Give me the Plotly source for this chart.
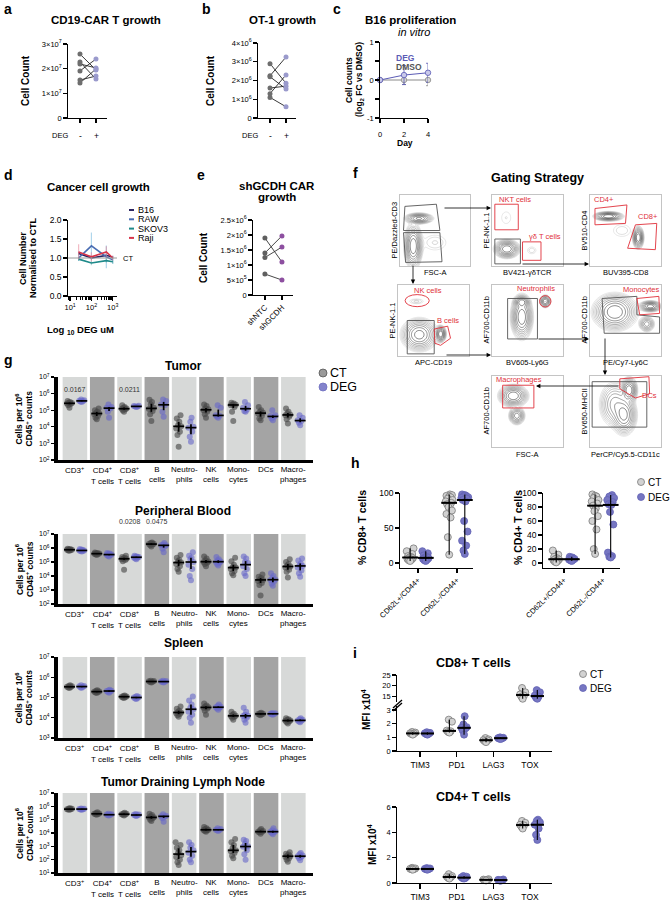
import numpy as np
import plotly.graph_objects as go

W, H = 671, 905
FONT = "Liberation Sans, Arial, Helvetica, sans-serif"

# ======================= DATA =======================
# a  CD19-CAR T growth (cell count), paired DEG - / +
a_ct = [2.59e7, 2.27e7, 2.19e7, 1.91e7, 1.54e7, 1.42e7]
a_deg = [1.95e7, 1.58e7, 2.03e7, 2.39e7, 1.70e7, 1.99e7]
a_yticks = [0, 1e7, 2e7, 3e7]
a_yticktext = ["0", "1×10<sup>7</sup>", "2×10<sup>7</sup>", "3×10<sup>7</sup>"]

# b  OT-1 growth
b_ct = [2.9e6, 2.25e6, 2.2e6, 1.6e6, 1.3e6, 1.1e6]
b_deg = [1.85e6, 3.25e6, 1.55e6, 1.7e6, 2.3e6, 0.6e6]
b_yticks = [0, 1e6, 2e6, 3e6, 4e6]
b_yticktext = ["0", "1×10<sup>6</sup>", "2×10<sup>6</sup>", "3×10<sup>6</sup>", "4×10<sup>6</sup>"]

# c  B16 proliferation in vitro (log2 FC vs DMSO)
c_days = [0, 2, 4]
c_deg = [0, 0.13, 0.19]
c_deg_err = [0, 0.25, 0.25]
c_dmso = [0, 0, 0]
c_dmso_err = [0, 0.12, 0.15]

# d  Cancer cell growth normalised to CTL
d_conc = [25, 100, 500, 1000]
d_names = ["B16", "RAW", "SKOV3", "Raji"]
d_b16 = [1.12, 1.0, 1.07, 1.02]
d_raw = [1.0, 1.32, 1.03, 0.95]
d_skov3 = [0.97, 0.87, 0.93, 0.9]
d_raji = [1.16, 1.03, 1.16, 1.0]
d_b16_err = [0.05, 0.06, 0.05, 0.04]
d_raw_err = [0.08, 0.35, 0.3, 0.1]
d_skov3_err = [0.05, 0.06, 0.05, 0.05]
d_raji_err = [0.2, 0.12, 0.15, 0.06]

# e  shGCDH CAR growth
e_ntc = [1.9e6, 1.4e6, 1.25e6, 0.7e6]
e_gcdh = [1.1e6, 1.97e6, 1.6e6, 0.5e6]
e_labels = ["shNTC", "shGCDH"]
e_yticks = [0, 5e5, 1e6, 1.5e6, 2e6, 2.5e6]
e_yticktext = ["0", "5×10<sup>5</sup>", "1×10<sup>6</sup>", "1.5×10<sup>6</sup>", "2×10<sup>6</sup>", "2.5×10<sup>6</sup>"]

# g  cells per 10^6 CD45+ counts (log10 values per animal)
g_categories = ["CD3<sup>+</sup>", "CD4<sup>+</sup><br>T cells", "CD8<sup>+</sup><br>T cells", "B<br>cells",
                "Neutro-<br>phils", "NK<br>cells", "Mono-<br>cytes", "DCs", "Macro-<br>phages"]
tumor_ct = [[5.55, 5.5, 5.45, 5.43, 5.4, 5.38, 5.3, 5.15],
            [5.1, 5.0, 4.9, 4.85, 4.8, 4.75, 4.65, 4.55, 4.45],
            [5.3, 5.2, 5.15, 5.1, 5.08, 5.05, 4.98, 4.9],
            [5.63, 5.5, 5.35, 5.15, 5.07, 4.95, 4.75, 4.35],
            [4.7, 4.5, 4.3, 4.1, 4.03, 3.9, 3.7, 3.5, 2.8],
            [5.35, 5.25, 5.1, 5.05, 5.0, 4.9, 4.75, 4.55],
            [5.45, 5.4, 5.35, 5.33, 5.3, 5.2, 4.9, 4.35],
            [5.2, 5.0, 4.9, 4.85, 4.8, 4.65, 4.5, 4.4],
            [5.1, 4.9, 4.8, 4.73, 4.7, 4.6, 4.45, 4.2]]
tumor_deg = [[5.65, 5.6, 5.57, 5.55, 5.53, 5.5],
             [5.35, 5.2, 5.15, 5.1, 4.9, 4.55],
             [5.27, 5.25, 5.23, 5.22, 5.2],
             [5.65, 5.55, 5.35, 5.3, 4.9, 4.6],
             [4.55, 4.3, 4.0, 3.95, 3.7, 3.4, 3.1],
             [5.3, 5.15, 4.7, 4.67, 4.6, 4.55],
             [5.5, 5.3, 5.15, 5.03, 4.95, 4.9],
             [5.0, 4.7, 4.65, 4.6, 4.5, 4.4],
             [4.7, 4.55, 4.4, 4.35, 4.25, 4.1]]
tumor_p = {0: "0.0167", 2: "0.0211"}

pb_ct = [[5.95, 5.92, 5.9, 5.88, 5.87, 5.85, 5.83, 5.8],
         [5.68, 5.65, 5.62, 5.6, 5.59, 5.57, 5.55, 5.5],
         [5.45, 5.35, 5.3, 5.25, 5.23, 5.2, 5.15, 5.05, 4.45],
         [6.4, 6.35, 6.3, 6.28, 6.25, 6.2, 6.1],
         [5.5, 5.3, 5.15, 5.05, 4.96, 4.85, 4.7, 4.5, 4.3],
         [5.4, 5.25, 5.1, 5.04, 5.0, 4.95, 4.85, 4.7],
         [5.3, 5.05, 4.8, 4.65, 4.6, 4.5, 4.35, 4.2, 4.05],
         [4.1, 3.95, 3.85, 3.75, 3.72, 3.65, 3.5, 3.35, 2.6],
         [5.2, 5.0, 4.85, 4.75, 4.68, 4.6, 4.45, 4.3, 3.9]]
pb_deg = [[5.92, 5.88, 5.85, 5.83, 5.82, 5.8, 5.78, 5.75],
          [5.65, 5.6, 5.57, 5.54, 5.52, 5.5, 5.45, 5.4],
          [5.45, 5.4, 5.37, 5.35, 5.33, 5.3, 5.25, 5.2],
          [6.35, 6.25, 6.2, 6.19, 6.1, 5.95, 5.7],
          [5.7, 5.45, 5.3, 5.2, 5.0, 4.8, 4.5, 4.0, 3.7],
          [5.35, 5.2, 5.1, 5.04, 5.0, 4.95, 4.85, 4.75],
          [5.4, 5.25, 5.0, 4.92, 4.7, 4.5, 4.2, 4.0],
          [4.2, 4.0, 3.85, 3.75, 3.72, 3.6, 3.45, 3.3],
          [5.25, 5.1, 4.9, 4.75, 4.72, 4.6, 4.4, 4.2, 3.95]]
pb_p = {2: "0.0208", 3: "0.0475"}

spleen_ct = [[5.6, 5.57, 5.55, 5.53, 5.52, 5.5, 5.47],
             [5.36, 5.33, 5.3, 5.29, 5.27, 5.25, 5.22],
             [5.1, 5.08, 5.05, 5.04, 5.02, 5.0, 4.98],
             [5.83, 5.81, 5.8, 5.78, 5.76, 5.74],
             [4.55, 4.45, 4.35, 4.3, 4.26, 4.22, 4.18, 4.12, 4.05],
             [4.7, 4.6, 4.55, 4.52, 4.5, 4.45, 4.35, 4.15],
             [4.3, 4.2, 4.15, 4.1, 4.09, 4.05, 4.0, 3.9],
             [4.25, 4.22, 4.2, 4.19, 4.17, 4.15, 4.12],
             [3.97, 3.93, 3.9, 3.87, 3.85, 3.82, 3.78, 3.72]]
spleen_deg = [[5.6, 5.57, 5.55, 5.53, 5.5, 5.48],
              [5.38, 5.35, 5.33, 5.32, 5.3, 5.27, 5.24],
              [5.07, 5.04, 5.02, 5.0, 4.98, 4.95, 4.92],
              [5.83, 5.81, 5.79, 5.78, 5.76, 5.74],
              [5.05, 4.85, 4.65, 4.5, 4.42, 4.3, 4.15, 4.0, 3.75],
              [4.65, 4.58, 4.54, 4.52, 4.5, 4.46, 4.4],
              [4.5, 4.3, 4.15, 4.1, 4.09, 4.0, 3.9, 3.75],
              [4.24, 4.22, 4.2, 4.19, 4.17, 4.15],
              [3.98, 3.93, 3.9, 3.87, 3.85, 3.82, 3.78]]

tdln_ct = [[5.85, 5.83, 5.81, 5.79, 5.78, 5.76, 5.74],
           [5.55, 5.5, 5.47, 5.44, 5.42, 5.4, 5.36],
           [5.52, 5.47, 5.44, 5.41, 5.39, 5.36, 5.32],
           [5.45, 5.35, 5.25, 5.18, 5.16, 5.1, 5.0, 4.9],
           [3.3, 3.1, 2.9, 2.7, 2.5, 2.34, 2.2, 2.0, 1.8, 1.6],
           [4.45, 4.35, 4.3, 4.25, 4.23, 4.2, 4.15, 4.1],
           [3.55, 3.3, 3.1, 2.9, 2.7, 2.64, 2.5, 2.3, 2.1],
           [4.3, 4.2, 4.15, 4.1, 4.08, 4.05, 3.95],
           [2.55, 2.45, 2.38, 2.3, 2.26, 2.2, 2.1, 2.0, 1.85]]
tdln_deg = [[5.84, 5.82, 5.8, 5.79, 5.77, 5.75],
            [5.45, 5.41, 5.38, 5.36, 5.34, 5.31],
            [5.42, 5.39, 5.36, 5.34, 5.32, 5.28],
            [5.4, 5.3, 5.26, 5.24, 5.1, 4.85],
            [3.3, 3.1, 2.9, 2.7, 2.51, 2.3, 2.0, 1.8],
            [4.35, 4.3, 4.25, 4.23, 4.2, 4.15],
            [3.5, 3.4, 3.2, 3.0, 2.97, 2.7, 2.4, 2.0],
            [4.35, 4.2, 4.12, 4.1, 4.05, 4.0, 3.9],
            [2.5, 2.4, 2.32, 2.26, 2.2, 2.1, 1.95]]

# h  % of CD8+ / CD4+ T cells
h_categories = ["CD62L+/CD44+", "CD62L-/CD44+"]
h8_ct = [[21, 17, 13, 10, 9, 8, 7, 6, 5, 4, 3],
         [98, 97, 96, 95, 94, 92, 90, 88, 86, 84, 82, 80, 75, 70, 65, 37, 12]]
h8_deg = [[17, 14, 11, 9, 8, 7, 6, 5, 4, 3],
          [98, 97, 96, 95, 94, 93, 92, 90, 88, 60, 45, 32, 25, 18, 13]]
h4_ct = [[18, 12, 9, 7, 6, 5, 4, 3, 2, 1],
         [98, 96, 95, 93, 90, 88, 85, 82, 78, 74, 67, 60, 48, 20, 13]]
h4_deg = [[9, 8, 7, 6, 5, 5, 4, 3],
          [97, 95, 93, 90, 87, 84, 83, 73, 55, 15, 10, 9, 8]]

# i  MFI x10^4
i_categories = ["TIM3", "PD1", "LAG3", "TOX"]
i8_ct = [[1.4, 1.35, 1.3, 1.28, 1.25, 1.2],
         [2.3, 2.15, 1.5, 1.45, 1.4, 1.35],
         [0.95, 0.85, 0.8, 0.78, 0.72, 0.65],
         [19, 17, 16, 15.5, 15, 14]]
i8_deg = [[1.38, 1.33, 1.3, 1.27, 1.25, 1.2],
          [2.55, 1.95, 1.75, 1.7, 1.65, 1.5, 1.2],
          [1.0, 0.97, 0.95, 0.93, 0.9, 0.88],
          [18, 17, 15.5, 15, 14.5, 14]]
i4_ct = [[1.2, 1.15, 1.12, 1.1, 1.08, 1.05],
         [0.7, 0.55, 0.5, 0.45, 0.4, 0.35],
         [0.3, 0.27, 0.25, 0.23, 0.2],
         [4.9, 4.75, 4.6, 4.55, 4.45, 4.3]]
i4_deg = [[1.18, 1.15, 1.12, 1.1, 1.08, 1.05],
          [0.55, 0.5, 0.45, 0.4, 0.38, 0.35],
          [0.28, 0.25, 0.23, 0.2, 0.18],
          [5.0, 4.9, 4.8, 4.6, 4.3, 3.8, 3.4]]

# f  gating strategy: axis names and population centres (cx, cy, sx, sy, weight)
f_xlabels = ["FSC-A", "BV421-γδTCR", "BUV395-CD8", "APC-CD19", "BV605-Ly6G", "PE/Cy7-Ly6C", "FSC-A", "PerCP/Cy5.5-CD11c"]
f_ylabels = ["PE/Dazzled-CD3", "PE-NK-1.1", "BV510-CD4", "PE-NK-1.1", "AF700-CD11b", "AF700-CD11b", "AF700-CD11b", "BV650-MHCII"]
f_pops = [
    [(0.27, 0.67, 0.08, 0.03, 1.0), (0.19, 0.28, 0.05, 0.12, 1.3), (0.5, 0.33, 0.12, 0.08, 0.06)],
    [(0.21, 0.24, 0.07, 0.05, 1.0), (0.2, 0.68, 0.07, 0.09, 0.03), (0.56, 0.22, 0.05, 0.04, 0.04)],
    [(0.26, 0.7, 0.08, 0.025, 1.0), (0.68, 0.4, 0.03, 0.06, 1.0), (0.45, 0.5, 0.1, 0.07, 0.04)],
    [(0.3, 0.3, 0.1, 0.09, 1.0), (0.6, 0.31, 0.03, 0.045, 1.2), (0.26, 0.77, 0.07, 0.025, 0.06)],
    [(0.42, 0.55, 0.06, 0.12, 1.0), (0.42, 0.76, 0.045, 0.035, 0.8), (0.75, 0.77, 0.03, 0.035, 0.7)],
    [(0.35, 0.62, 0.12, 0.1, 1.0), (0.85, 0.7, 0.06, 0.03, 0.9), (0.8, 0.45, 0.045, 0.045, 0.4)],
    [(0.3, 0.72, 0.08, 0.06, 1.0), (0.35, 0.44, 0.045, 0.05, 0.6)],
    [(0.55, 0.8, 0.045, 0.07, 1.0), (0.48, 0.45, 0.07, 0.11, 0.8), (0.35, 0.6, 0.09, 0.13, 0.4)],
]

# ======================= STYLE / HELPERS =======================
GRAY_PT = "rgba(70,70,70,0.62)"
BLUE_PT = "rgba(105,105,200,0.62)"
BAND_L = "#d7d9d8"
BAND_D = "#a4a4a4"
RED = "#e0303a"
TF = 7.5  # tick font

fig = go.Figure()
L = dict(width=W, height=H, margin=dict(l=0, r=0, t=0, b=0, pad=0, autoexpand=False), paper_bgcolor="white",
         plot_bgcolor="rgba(0,0,0,0)", showlegend=False,
         font=dict(family=FONT, size=8, color="black"))
ANN, SHP = [], []
NAX = [0]
BASE = dict(showgrid=False, zeroline=False, showline=True, linecolor="black", linewidth=1.3,
            ticks="outside", ticklen=3.5, tickwidth=1.3, tickcolor="black", automargin=False,
            tickfont=dict(size=TF, family=FONT, color="black"), fixedrange=True)


def axes(x0, x1, y0, y1, xkw=None, ykw=None):
    NAX[0] += 1
    s = "" if NAX[0] == 1 else str(NAX[0])
    xa = dict(BASE, domain=[x0 / W, x1 / W], anchor="y" + s)
    ya = dict(BASE, domain=[1 - y1 / H, 1 - y0 / H], anchor="x" + s)
    xa.update(xkw or {})
    ya.update(ykw or {})
    L["xaxis" + s] = xa
    L["yaxis" + s] = ya
    return "x" + s, "y" + s


def txt(x, y, t, size=7, bold=False, color="black", xanchor="center", yanchor="middle", angle=0):
    ANN.append(dict(x=x / W, y=1 - y / H, xref="paper", yref="paper",
                    text=(f"<b>{t}</b>" if bold else t), showarrow=False,
                    font=dict(size=size, color=color, family=FONT),
                    xanchor=xanchor, yanchor=yanchor, textangle=angle, borderpad=0))


def arrow(x0, y0, x1, y1):
    ANN.append(dict(x=x1 / W, y=1 - y1 / H, xref="paper", yref="paper", ax=x0 - x1, ay=y0 - y1,
                    showarrow=True, arrowhead=2, arrowsize=1.1, arrowwidth=0.8, arrowcolor="black", text=""))


def legend_dot(x, y, fill, outline, label, size=10, r=3.5):
    SHP.append(dict(type="circle", xref="paper", yref="paper", x0=(x - r) / W, x1=(x + r) / W,
                    y0=1 - (y + r) / H, y1=1 - (y - r) / H, fillcolor=fill, line=dict(color=outline, width=0.8)))
    txt(x + r + 2, y, label, size, xanchor="left")


def paired(xid, yid, left, right, lc, rc, linec="#222"):
    for l, r in zip(left, right):
        fig.add_trace(go.Scatter(x=[0, 1], y=[l, r], mode="lines", line=dict(color=linec, width=0.9),
                                 xaxis=xid, yaxis=yid, hoverinfo="skip", cliponaxis=False))
    fig.add_trace(go.Scatter(x=[0] * len(left), y=left, mode="markers", marker=dict(color=lc, size=5),
                             xaxis=xid, yaxis=yid, cliponaxis=False))
    fig.add_trace(go.Scatter(x=[1] * len(right), y=right, mode="markers", marker=dict(color=rc, size=5),
                             xaxis=xid, yaxis=yid, cliponaxis=False))


JIT = [0, -1, 1, -2, 2, -0.5, 0.5, -1.5, 1.5, -2.5, 2.5, -1, 1, 0, -2, 2, 0.5]


def jitter(vals, center, step):
    order = np.argsort(vals)
    xs = np.empty(len(vals))
    for rank, idx in enumerate(order):
        xs[idx] = center + JIT[rank % len(JIT)] * step
    return xs


def summary_lines(groups, centers, half, stat="iqr", logscale=False):
    xs, ys = [], []
    for vals, c in zip(groups, centers):
        v = np.array(vals, dtype=float)
        med = np.median(v)
        if stat == "iqr":
            lo, hi = np.percentile(v, [25, 75])
        else:
            lo, hi = v.min(), v.max()
        if logscale:
            med, lo, hi = 10 ** med, 10 ** lo, 10 ** hi
        xs += [c - half, c + half, None, c, c, None]
        ys += [med, med, None, lo, hi, None]
    return xs, ys


LET = 14    # panel letters
TIT = 11.5  # panel titles

# ======================= PANEL a =======================
xa_, ya_ = axes(68, 107, 44, 118,
                xkw=dict(range=[-0.75, 1.69], tickvals=[0, 1], ticktext=["", ""]),
                ykw=dict(range=[0, 3e7], tickvals=a_yticks, ticktext=a_yticktext))
paired(xa_, ya_, a_ct, a_deg, "#6e6e6e", "#9a9acc")
txt(3, 9, "a", LET, True, xanchor="left")
txt(106, 20, "CD19-CAR T growth", TIT, True)
txt(25, 81, "Cell Count", 10, True, angle=-90)
txt(60, 136, "DEG", 7.5)
txt(80, 136, "-", 8.5)
txt(96, 136, "+", 8.5)

# ======================= PANEL b =======================
xb_, yb_ = axes(258, 296, 43, 118,
                xkw=dict(range=[-0.75, 1.625], tickvals=[0, 1], ticktext=["", ""]),
                ykw=dict(range=[0, 4e6], tickvals=b_yticks, ticktext=b_yticktext))
paired(xb_, yb_, b_ct, b_deg, "#6e6e6e", "#9a9acc")
txt(201, 9, "b", LET, True, xanchor="left")
txt(282, 20, "OT-1 growth", TIT, True)
txt(210, 81, "Cell Count", 10, True, angle=-90)
txt(250, 136, "DEG", 7.5)
txt(270, 136, "-", 8.5)
txt(286, 136, "+", 8.5)

# ======================= PANEL c =======================
xc_, yc_ = axes(380, 428, 42, 118,
                xkw=dict(range=[0, 4], tickvals=[0, 2, 4], ticklabelstandoff=5, ticklen=4),
                ykw=dict(range=[-1, 1], tickvals=[-1, -0.5, 0, 0.5, 1], ticktext=["-1", "", "0", "", "1"]))
fig.add_trace(go.Scatter(x=c_days, y=c_dmso, mode="lines+markers", line=dict(color="#8a8a8a", width=1),
                         marker=dict(color="#d6d6d6", size=5.5, line=dict(color="#8a8a8a", width=0.8)),
                         error_y=dict(type="data", array=c_dmso_err, color="#8a8a8a", thickness=0.8, width=2),
                         xaxis=xc_, yaxis=yc_, cliponaxis=False))
fig.add_trace(go.Scatter(x=c_days, y=c_deg, mode="lines+markers", line=dict(color="#5b5bb5", width=1),
                         marker=dict(color="#c9c9ea", size=5.5, line=dict(color="#5b5bb5", width=0.8)),
                         error_y=dict(type="data", array=c_deg_err, color="#5b5bb5", thickness=0.8, width=2),
                         xaxis=xc_, yaxis=yc_, cliponaxis=False))
txt(332, 9, "c", LET, True, xanchor="left")
txt(410, 20, "B16 proliferation", TIT, True)
txt(414, 32, "<i>in vitro</i>", 11)
txt(349, 80, "Cell counts", 8.5, True, angle=-90)
txt(359, 80, "(log<sub>2</sub> FC vs DMSO)", 8.5, True, angle=-90)
txt(405, 143, "Day", 8.5, True)
txt(395, 58, "DEG", 8.5, True, color="#5b5bb5", xanchor="left")
txt(395, 67, "DMSO", 8.5, True, color="#555555", xanchor="left")

# ======================= PANEL d =======================
xd_, yd_ = axes(68, 117, 220, 296,
                xkw=dict(type="log", range=[0.9, 3.2], tickvals=[10, 100, 1000],
                         ticktext=["10<sup>1</sup>", "10<sup>2</sup>", "10<sup>3</sup>"],
                         minor=dict(ticks="outside", ticklen=2.5, tickwidth=1, tickcolor="black", dtick="D1")),
                ykw=dict(range=[0, 2], tickvals=[0, 0.5, 1, 1.5, 2], ticktext=["0.0", "0.5", "1.0", "1.5", "2.0"],
                         tickfont=dict(size=8.5, family=FONT, color="black")))
SHP.append(dict(type="line", xref=xd_ + " domain", yref=yd_, x0=0, x1=1, y0=1, y1=1,
                line=dict(color="#9a9a9a", width=1)))
d_cols = ["#2c2561", "#4a6db3", "#1f8a8a", "#d8344a"]
d_errcols = ["rgba(44,37,97,0.35)", "rgba(110,180,220,0.55)", "rgba(31,138,138,0.35)", "rgba(230,120,140,0.5)"]
for vals, errs, col, ecol in zip([d_b16, d_raw, d_skov3, d_raji], [d_b16_err, d_raw_err, d_skov3_err, d_raji_err],
                                 d_cols, d_errcols):
    fig.add_trace(go.Scatter(x=d_conc, y=vals, mode="lines", line=dict(color=col, width=1.6),
                             error_y=dict(type="data", array=errs, color=ecol, thickness=1.2, width=0),
                             xaxis=xd_, yaxis=yd_, cliponaxis=False))
for k, (nm, col) in enumerate(zip(d_names, d_cols)):
    yy = 210 + k * 9.3
    SHP.append(dict(type="line", xref="paper", yref="paper", x0=129 / W, x1=134 / W, y0=1 - yy / H, y1=1 - yy / H,
                    line=dict(color=col, width=2)))
    txt(137, yy, nm, 9, xanchor="left")
txt(122, 258, "CT", 7.5, xanchor="left")
txt(3, 175, "d", LET, True, xanchor="left")
txt(98, 187, "Cancer cell growth", TIT, True)
txt(23, 258, "Cell Number", 9, True, angle=-90)
txt(33, 258, "Normalised to CTL", 9, True, angle=-90)
txt(80, 330, "Log <sub>10</sub> DEG uM", 9.5, True)

# ======================= PANEL e =======================
xe_, ye_ = axes(253, 293, 220, 295,
                xkw=dict(range=[-0.7, 1.65], tickvals=[0, 1], ticktext=e_labels, tickangle=-45,
                         tickfont=dict(size=8, family=FONT, color="black")),
                ykw=dict(range=[0, 2.5e6], tickvals=e_yticks, ticktext=e_yticktext))
paired(xe_, ye_, e_ntc, e_gcdh, "#5f5f5f", "#8d4fa0", linec="#333")
txt(196, 175, "e", LET, True, xanchor="left")
txt(277, 186, "shGCDH CAR", TIT, True)
txt(277, 197, "growth", TIT, True)
txt(203, 258, "Cell Count", 10, True, angle=-90)

# ======================= PANEL f =======================
f_boxes = [(400, 470, 195, 266), (492, 563, 195, 266), (590, 661, 195, 266),
           (398, 469, 285, 356), (492, 563, 285, 356), (590, 661, 285, 356),
           (492, 563, 376, 447), (590, 661, 376, 447)]
f_gates = [
    [("poly", [(0.07, 0.84), (0.52, 0.87), (0.57, 0.5), (0.05, 0.5)], "#555"),
     ("poly", [(0.05, 0.47), (0.57, 0.47), (0.6, 0.06), (0.08, 0.05)], "#555")],
    [("rect", (0.04, 0.51, 0.37, 0.87), RED), ("rect", (0.04, 0.03, 0.4, 0.38), "#555"),
     ("rect", (0.43, 0.08, 0.69, 0.34), RED)],
    [("poly", [(0.07, 0.81), (0.52, 0.86), (0.5, 0.6), (0.07, 0.58)], RED),
     ("poly", [(0.64, 0.58), (0.94, 0.6), (0.92, 0.23), (0.53, 0.25)], RED)],
    [("ellipse", (0.27, 0.78, 0.17, 0.085), RED), ("rect", (0.13, 0.03, 0.51, 0.5), "#555"),
     ("poly", [(0.51, 0.38), (0.7, 0.42), (0.74, 0.25), (0.6, 0.15), (0.52, 0.18)], RED)],
    [("rect", (0.22, 0.24, 0.64, 0.81), "#555"), ("ellipse", (0.75, 0.77, 0.08, 0.08), RED)],
    [("poly", [(0.17, 0.81), (0.66, 0.84), (0.66, 0.58), (0.98, 0.55), (0.98, 0.32), (0.2, 0.32)], "#555"),
     ("poly", [(0.66, 0.81), (0.97, 0.84), (0.98, 0.6), (0.7, 0.58)], RED)],
    [("rect", (0.15, 0.55, 0.59, 0.87), RED)],
    [("rect", (0.03, 0.28, 0.8, 0.92), "#555"),
     ("poly", [(0.42, 0.96), (0.83, 0.99), (0.84, 0.75), (0.64, 0.69), (0.42, 0.82)], RED)],
]
f_gate_labels = [[], [("NKT cells", 0.33, 0.94), ("γδ T cells", 0.74, 0.42)],
                 [("CD4+", 0.2, 0.93), ("CD8+", 0.82, 0.7)],
                 [("NK cells", 0.42, 0.92), ("B cells", 0.71, 0.5)],
                 [("Neutrophils", 0.62, 0.95)], [("Monocytes", 0.72, 0.93)],
                 [("Macrophages", 0.38, 0.95)], [("DCs", 0.84, 0.73)]]
grid = np.linspace(0, 1, 80)
GX, GY = np.meshgrid(grid, grid)
for k, (x0, x1, y0, y1) in enumerate(f_boxes):
    fx_, fy_ = axes(x0, x1, y0, y1,
                    xkw=dict(range=[0, 1], showticklabels=False, ticks="", linecolor="#c4c4c4", linewidth=1, mirror=True),
                    ykw=dict(range=[0, 1], showticklabels=False, ticks="", linecolor="#c4c4c4", linewidth=1, mirror=True))
    Z = np.zeros_like(GX)
    for cx, cy, sx, sy, w in f_pops[k]:
        Z += w * np.exp(-((GX - cx) ** 2 / (2 * sx ** 2) + (GY - cy) ** 2 / (2 * sy ** 2)))
    Zl = np.log10(Z / Z.max() + 1e-6)
    fig.add_trace(go.Contour(x=grid, y=grid, z=Zl, showscale=False, hoverinfo="skip",
                             contours=dict(coloring="lines", start=-1.7, end=0, size=0.17),
                             line=dict(width=0.5), colorscale=[[0, "#cfcfcf"], [0.5, "#7a7a7a"], [1, "#111111"]],
                             zmin=-1.7, zmax=0, xaxis=fx_, yaxis=fy_))
    for kind, pts, col in f_gates[k]:
        if kind == "poly":
            path = "M " + " L ".join(f"{px},{py}" for px, py in pts) + " Z"
            SHP.append(dict(type="path", path=path, xref=fx_, yref=fy_, line=dict(color=col, width=0.9)))
        elif kind == "rect":
            SHP.append(dict(type="rect", x0=pts[0], y0=pts[1], x1=pts[2], y1=pts[3], xref=fx_, yref=fy_,
                            line=dict(color=col, width=0.9)))
        else:
            cx, cy, rx, ry = pts
            SHP.append(dict(type="circle", x0=cx - rx, x1=cx + rx, y0=cy - ry, y1=cy + ry, xref=fx_, yref=fy_,
                            line=dict(color=col, width=0.9)))
    for lab, lx, ly in f_gate_labels[k]:
        ANN.append(dict(x=lx, y=ly, xref=fx_, yref=fy_, text=lab, showarrow=False, borderpad=0,
                        font=dict(size=7.5, color=RED, family=FONT)))
    txt((x0 + x1) / 2, y1 + 7, f_xlabels[k], 7.5)
    txt(x0 - 6, (y0 + y1) / 2, f_ylabels[k], 7.5, angle=-90)
txt(352, 173, "f", LET, True, xanchor="left")
txt(537, 178, "Gating Strategy", 12.5, True)
arrow(443, 208, 491, 208)
arrow(521, 264, 589, 264)
arrow(413, 264, 413, 284)
arrow(445, 355, 491, 355)
arrow(537, 339, 589, 339)
arrow(605, 337, 605, 375)
arrow(620, 386, 536, 386)


# ======================= PANEL g =======================
def g_panel(top, bot, lo, ct, deg, title, title_y, pvals=None, p_y=None):
    xid, yid = axes(58, 313, top, bot,
                    xkw=dict(range=[-0.62, 8.72], showticklabels=False, ticks="", linewidth=3),
                    ykw=dict(type="log", range=[lo, 7], tickvals=[10 ** k for k in range(lo, 8)],
                             ticktext=[f"10<sup>{k}</sup>" for k in range(lo, 8)], linewidth=4,
                             tickfont=dict(size=7, family=FONT, color="black"), ticklen=3))
    for i in range(9):
        SHP.append(dict(type="rect", xref=xid, yref=yid + " domain", x0=i - 0.45, x1=i + 0.45, y0=0, y1=1,
                        fillcolor=(BAND_L if i % 2 == 0 else BAND_D), line=dict(width=0), layer="below"))
    xs_c, ys_c, xs_d, ys_d = [], [], [], []
    for i in range(9):
        xs_c += list(jitter(ct[i], i - 0.2, 0.045))
        ys_c += [10 ** v for v in ct[i]]
        xs_d += list(jitter(deg[i], i + 0.25, 0.045))
        ys_d += [10 ** v for v in deg[i]]
    fig.add_trace(go.Scatter(x=xs_c, y=ys_c, mode="markers", marker=dict(color=GRAY_PT, size=6),
                             xaxis=xid, yaxis=yid))
    fig.add_trace(go.Scatter(x=xs_d, y=ys_d, mode="markers", marker=dict(color=BLUE_PT, size=6),
                             xaxis=xid, yaxis=yid))
    lx, ly = summary_lines(ct + deg, [i - 0.2 for i in range(9)] + [i + 0.25 for i in range(9)], 0.2,
                           "iqr", logscale=True)
    fig.add_trace(go.Scatter(x=lx, y=ly, mode="lines", line=dict(color="black", width=1.7),
                             xaxis=xid, yaxis=yid, hoverinfo="skip"))
    for i, lab in enumerate(g_categories):
        ANN.append(dict(x=i, y=1 - (bot + 4) / H, xref=xid, yref="paper", text=lab, showarrow=False, borderpad=0,
                        font=dict(size=8, family=FONT, color="black"), xanchor="center", yanchor="top"))
    if pvals:
        for i, p in pvals.items():
            ANN.append(dict(x=i, y=1 - p_y / H, xref=xid, yref="paper", text=p, showarrow=False, borderpad=0,
                            font=dict(size=7, family=FONT, color="#333"), xanchor="center", yanchor="middle"))
    txt(183, title_y, title, 12, True)
    txt(19, (top + bot) / 2, "Cells per 10<sup>6</sup>", 8.5, True, angle=-90)
    txt(29, (top + bot) / 2, "CD45<sup>+</sup> counts", 8.5, True, angle=-90)


g_panel(377, 460, 2, tumor_ct, tumor_deg, "Tumor", 366, tumor_p, 389)
g_panel(534, 604, 2, pb_ct, pb_deg, "Peripheral Blood", 511, pb_p, 521)
g_panel(657, 738, 3, spleen_ct, spleen_deg, "Spleen", 643)
g_panel(793, 873, 1, tdln_ct, tdln_deg, "Tumor Draining Lymph Node", 782)
txt(3, 360, "g", LET, True, xanchor="left")
legend_dot(323, 373, "#9a9a9a", "#555", "CT", 12.5, 4)
legend_dot(323, 387, "#8383cc", "#7070c0", "DEG", 12.5, 4)


# ======================= PANEL h =======================
def dot_panel(xid, yid, ct, deg, offs, half, mk=7):
    n = len(ct)
    for grp, off, fill, outl in [(ct, -offs, "#d2d2d2", "#7a7a7a"), (deg, offs, "#7676c2", "#6262b4")]:
        xs, ys = [], []
        for i in range(n):
            xs += list(jitter(grp[i], i + off, 0.035))
            ys += list(grp[i])
        fig.add_trace(go.Scatter(x=xs, y=ys, mode="markers",
                                 marker=dict(color=fill, size=mk, line=dict(color=outl, width=0.8)),
                                 xaxis=xid, yaxis=yid, cliponaxis=False))
    lx, ly = summary_lines(ct + deg, [i - offs for i in range(n)] + [i + offs for i in range(n)], half, "range")
    fig.add_trace(go.Scatter(x=lx, y=ly, mode="lines", line=dict(color="black", width=1.1),
                             xaxis=xid, yaxis=yid, hoverinfo="skip", cliponaxis=False))
    mx, my = [], []
    for grp, off in [(ct, -offs), (deg, offs)]:
        for i in range(n):
            m = float(np.median(grp[i]))
            mx += [i + off - half, i + off + half, None]
            my += [m, m, None]
    fig.add_trace(go.Scatter(x=mx, y=my, mode="lines", line=dict(color="black", width=2),
                             xaxis=xid, yaxis=yid, hoverinfo="skip", cliponaxis=False))


hx1, hy1 = axes(400, 473, 493, 568,
                xkw=dict(range=[-0.46, 1.41], tickvals=[0, 1], ticktext=h_categories, tickangle=-45,
                         tickfont=dict(size=7.5, family=FONT, color="black")),
                ykw=dict(range=[-7, 100], tickvals=[0, 50, 100], tickfont=dict(size=8.5, family=FONT, color="black")))
dot_panel(hx1, hy1, h8_ct, h8_deg, 0.2, 0.2)
hx2, hy2 = axes(543, 620, 493, 568,
                xkw=dict(range=[-0.54, 1.44], tickvals=[0, 1], ticktext=h_categories, tickangle=-45,
                         tickfont=dict(size=7.5, family=FONT, color="black")),
                ykw=dict(range=[-7, 100], tickvals=[0, 20, 40, 60, 80, 100],
                         tickfont=dict(size=8.5, family=FONT, color="black")))
dot_panel(hx2, hy2, h4_ct, h4_deg, 0.2, 0.2)
txt(350, 463, "h", LET, True, xanchor="left")
txt(362, 528, "% CD8+ T cells", 10.5, True, angle=-90)
txt(518, 528, "% CD4+ T cells", 10.5, True, angle=-90)
legend_dot(641, 482, "#d2d2d2", "#7a7a7a", "CT", 10)
legend_dot(641, 497, "#7676c2", "#6262b4", "DEG", 10)

# ======================= PANEL i =======================
i_xr = [-0.63, 3.6]
ixl, iyl = axes(397, 552, 706, 751,
                xkw=dict(range=i_xr, tickvals=[0, 1, 2, 3], ticktext=i_categories, ticklen=5,
                         tickfont=dict(size=8.5, family=FONT, color="black")),
                ykw=dict(range=[0, 3.3], tickvals=[0, 1, 2, 3]))
ixu, iyu = axes(397, 552, 675, 702,
                xkw=dict(range=i_xr, visible=False),
                ykw=dict(range=[12.5, 25], tickvals=[15, 20, 25]))
dot_panel(ixl, iyl, i8_ct[:3], i8_deg[:3], 0.2, 0.18)
# TOX on the upper (broken) segment, category index 3
for grp, off, fill, outl in [(i8_ct[3], -0.2, "#d2d2d2", "#7a7a7a"), (i8_deg[3], 0.2, "#7676c2", "#6262b4")]:
    fig.add_trace(go.Scatter(x=list(jitter(grp, 3 + off, 0.035)), y=grp, mode="markers",
                             marker=dict(color=fill, size=7, line=dict(color=outl, width=0.8)),
                             xaxis=ixu, yaxis=iyu, cliponaxis=False))
lx, ly = summary_lines([i8_ct[3], i8_deg[3]], [2.8, 3.2], 0.18, "range")
fig.add_trace(go.Scatter(x=lx, y=ly, mode="lines", line=dict(color="black", width=1.1),
                         xaxis=ixu, yaxis=iyu, hoverinfo="skip", cliponaxis=False))
mx, my = [], []
for grp, c in [(i8_ct[3], 2.8), (i8_deg[3], 3.2)]:
    m = float(np.median(grp))
    mx += [c - 0.18, c + 0.18, None]
    my += [m, m, None]
fig.add_trace(go.Scatter(x=mx, y=my, mode="lines", line=dict(color="black", width=2),
                         xaxis=ixu, yaxis=iyu, hoverinfo="skip", cliponaxis=False))
for dy in (0, 3):
    SHP.append(dict(type="line", xref="paper", yref="paper", x0=393 / W, x1=402 / W,
                    y0=1 - (708 + dy) / H, y1=1 - (700 + dy) / H, line=dict(color="black", width=1.3)))

ix4, iy4 = axes(397, 552, 807, 883,
                xkw=dict(range=i_xr, tickvals=[0, 1, 2, 3], ticktext=i_categories, ticklen=5,
                         tickfont=dict(size=8.5, family=FONT, color="black")),
                ykw=dict(range=[0, 6], tickvals=[0, 2, 4, 6]))
dot_panel(ix4, iy4, i4_ct, i4_deg, 0.2, 0.18)
txt(352, 653, "i", LET, True, xanchor="left")
txt(473, 663, "CD8+ T cells", 12.5, True)
txt(473, 797, "CD4+ T cells", 12.5, True)
txt(366, 710, "MFI x10<sup>4</sup>", 10, True, angle=-90)
txt(372, 845, "MFI x10<sup>4</sup>", 10, True, angle=-90)
legend_dot(583, 674, "#d2d2d2", "#7a7a7a", "CT", 10)
legend_dot(583, 688, "#7676c2", "#6262b4", "DEG", 10)

L["annotations"] = ANN
L["shapes"] = SHP
fig.update_layout(**L)
fig.write_html("out.html",
               config={"displayModeBar": False, "staticPlot": True},
               post_script="document.body.style.margin='0px';document.body.style.padding='0px';"
                           "document.body.style.overflow='hidden';"
                           "document.documentElement.style.overflow='hidden';")
